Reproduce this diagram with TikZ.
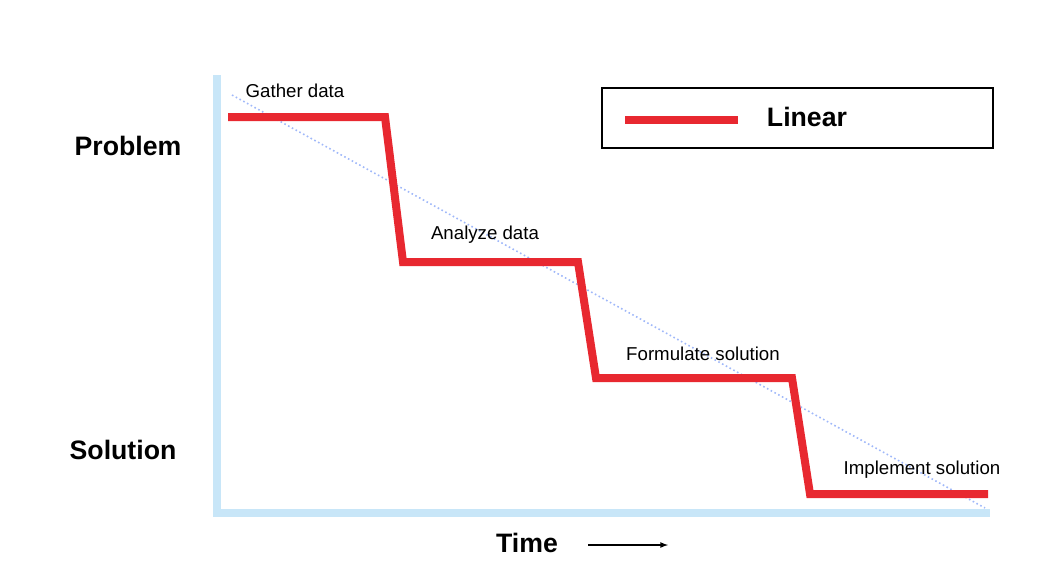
\documentclass[tikz,border=0pt]{standalone}
\usepackage{fontspec}
\setmainfont{Liberation Sans}
\begin{document}
\begin{tikzpicture}[x=0.75pt,y=-0.75pt,
  axis/.style={draw=cyan!20!blue!15!white, line width=6pt},
  lbl/.style={font=\fontsize{14}{16}\selectfont},
  big/.style={font=\fontsize{20}{22}\selectfont\bfseries},
  redline/.style={draw={rgb,255:red,232;green,40;blue,48}, line width=6pt}]
\useasboundingbox (0,0) rectangle (1060,568);
\definecolor{axc}{RGB}{200,230,248}
\coordinate (top) at (217,75);
\coordinate (org) at (217,513);
\coordinate (right) at (990,513);
\draw[draw=axc, line width=6pt] (top) -- (org) -- (right);
\coordinate (d1) at (232,95);
\coordinate (d2) at (985,508);
\draw[draw=axc!80!blue, dotted, line width=1.2pt] (d1) -- (d2);
\draw[redline, line join=miter] (228,117) -- (385,117) -- (403,262) -- (578,262) -- (596,378) -- (792,378) -- (810,494) -- (988,494);
\node[lbl] (g) at (295,91) {Gather data};
\node[lbl] (a) at (485,235) {Analyze data};
\node[lbl] (f) at (703,354) {Formulate solution};
\node[lbl] (i) at (922,470) {Implement solution};
\node[big] (p) at (128,146) {Problem};
\node[big] (s) at (123,450) {Solution};
\node[big] (t) at (527,543) {Time};
\coordinate (ta) at (588,545);
\coordinate (tb) at (668,545);
\draw[-latex, line width=1pt] (ta) -- (tb);
\node[draw, line width=1.5pt, minimum width=391*0.75pt, minimum height=60*0.75pt] (leg) at (797.5,118) {};
\coordinate (l1) at (625,120);
\coordinate (l2) at (738,120);
\draw[redline] (l1) -- (l2);
\node[big] (lin) at (807,117) {Linear};
\end{tikzpicture}
\end{document}
